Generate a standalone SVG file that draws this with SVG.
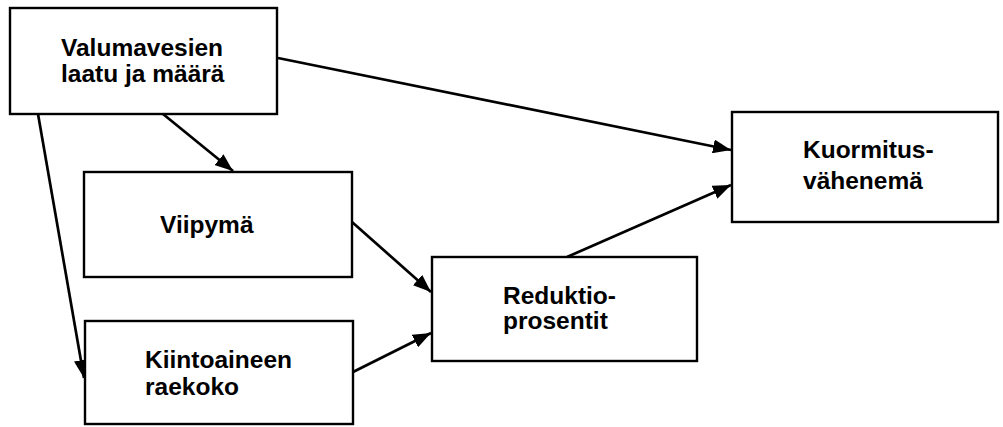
<svg xmlns="http://www.w3.org/2000/svg" width="1003" height="427" viewBox="0 0 1003 427">
  <defs>
    <style>
      .box { fill: #ffffff; stroke: #000000; stroke-width: 2.4; }
      .lbl { font-family: "Liberation Sans", Arial, sans-serif; font-weight: bold; font-size: 24.5px; fill: #000000; }
      .edge { fill: none; stroke: #000000; stroke-width: 2.7; marker-end: url(#head); }
    </style>
    <marker id="head" viewBox="0 0 18 14" refX="18" refY="7" markerWidth="18" markerHeight="14" markerUnits="userSpaceOnUse" orient="auto">
      <path d="M0,0 L18,7 L0,14 Z" fill="#000000"/>
    </marker>
  </defs>
  <rect width="1003" height="427" fill="#ffffff"/>

  <g id="connectors">
    <line class="edge" x1="38" y1="114" x2="84" y2="378"/>
    <line class="edge" x1="163" y1="114" x2="233" y2="171"/>
    <line class="edge" x1="278" y1="58" x2="731" y2="150"/>
    <line class="edge" x1="352" y1="222" x2="431" y2="292"/>
    <line class="edge" x1="353" y1="372" x2="431" y2="333"/>
    <line class="edge" x1="567" y1="257" x2="731" y2="185"/>
  </g>

  <g id="valumavesien">
    <rect class="box" x="10" y="8" width="267" height="106"/>
    <text class="lbl" x="61" y="56">Valumavesien</text>
    <text class="lbl" x="61" y="82">laatu ja määrä</text>
  </g>

  <g id="viipyma">
    <rect class="box" x="84" y="172" width="268" height="105"/>
    <text class="lbl" x="160" y="233">Viipymä</text>
  </g>

  <g id="kiintoaineen-raekoko">
    <rect class="box" x="85" y="321" width="268" height="103"/>
    <text class="lbl" x="145" y="368">Kiintoaineen</text>
    <text class="lbl" x="145" y="395">raekoko</text>
  </g>

  <g id="reduktioprosentit">
    <rect class="box" x="432" y="257" width="265" height="104"/>
    <text class="lbl" x="503" y="304">Reduktio-</text>
    <text class="lbl" x="503" y="329">prosentit</text>
  </g>

  <g id="kuormitusvahenema">
    <rect class="box" x="732" y="112" width="266" height="110"/>
    <text class="lbl" x="803" y="158">Kuormitus-</text>
    <text class="lbl" x="803" y="189">vähenemä</text>
  </g>
</svg>
